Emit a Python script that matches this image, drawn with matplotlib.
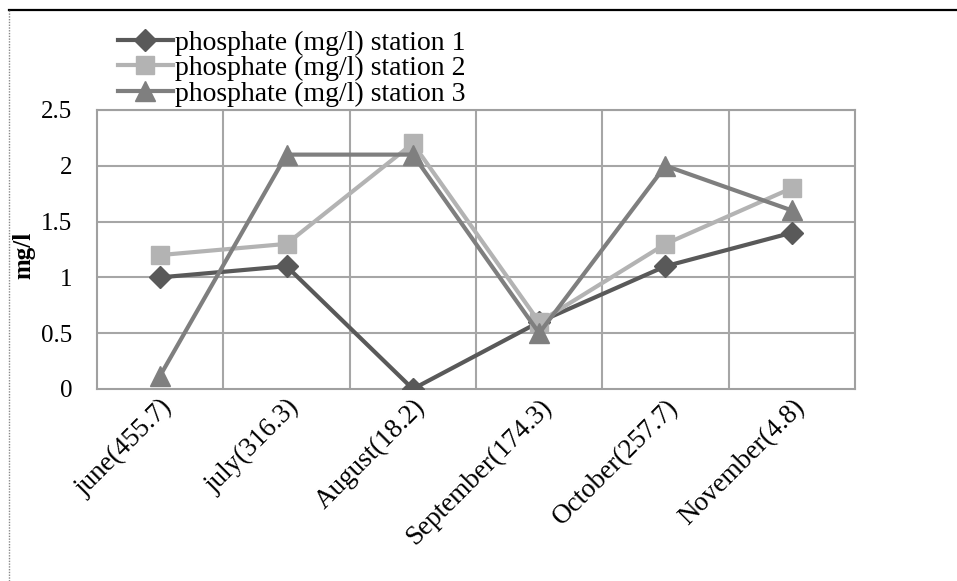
import numpy as np
import matplotlib.pyplot as plt
from matplotlib.lines import Line2D

months = ['june(455.7)', 'july(316.3)', 'August(18.2)', 'September(174.3)',
          'October(257.7)', 'November(4.8)']
station1 = [1.0, 1.1, 0.0, 0.6, 1.1, 1.4]
station2 = [1.2, 1.3, 2.2, 0.6, 1.3, 1.8]
station3 = [0.12, 2.1, 2.1, 0.5, 2.0, 1.6]
yticks = [0, 0.5, 1, 1.5, 2, 2.5]
yticklabels = ['0', '0.5', '1', '1.5', '2', '2.5']

plt.rcParams['font.family'] = ['Liberation Serif', 'DejaVu Serif']

fig = plt.figure(figsize=(9.57, 5.81), dpi=100)
ax = fig.add_axes([0.1014, 0.3305, 0.792, 0.4802])

x = np.arange(len(months))
l1, = ax.plot(x, station1, color='#595959', lw=3, marker='D', ms=11,
              label='phosphate (mg/l) station 1', zorder=3)
l2, = ax.plot(x, station2, color='#b3b3b3', lw=3, marker='s', ms=13,
              label='phosphate (mg/l) station 2', zorder=4)
l3, = ax.plot(x, station3, color='#7f7f7f', lw=3, marker='^', ms=14,
              label='phosphate (mg/l) station 3', zorder=5)

ax.set_xlim(-0.5, len(months) - 0.5)
ax.set_ylim(0, 2.5)
ax.set_yticks(yticks)
ax.set_yticklabels(yticklabels, fontsize=18)
ax.set_xticks(x)
ax.set_xticklabels(months, fontsize=19.5, rotation=45, ha='right',
                   rotation_mode='anchor')
ax.tick_params(axis='both', length=0)
ax.tick_params(axis='y', pad=18)
ax.tick_params(axis='x', pad=4)

# grid: horizontal at ticks, vertical between categories
for y in yticks[1:]:
    ax.axhline(y, color='#a6a6a6', lw=1.5, zorder=1)
for xb in np.arange(0.5, len(months) - 0.5, 1):
    ax.axvline(xb, color='#a6a6a6', lw=1.5, zorder=1)
for s in ax.spines.values():
    s.set_color('#a0a0a0')
    s.set_linewidth(1.5)

ax.set_ylabel('mg/l', fontsize=18, fontweight='bold')
ax.yaxis.set_label_coords(-0.081, 0.48)

leg = fig.legend(handles=[l1, l2, l3], loc='upper left',
                 bbox_to_anchor=(0.123, 0.948), frameon=False, fontsize=20,
                 handlelength=2.0, handletextpad=0.05, labelspacing=0.0,
                 borderpad=0, borderaxespad=0)

# outer frame: solid top edge, dotted left edge
fig.add_artist(Line2D([9 / 957, 1], [1 - 10 / 581, 1 - 10 / 581],
                      transform=fig.transFigure, color='black', lw=1.6))
fig.add_artist(Line2D([9 / 957, 9 / 957], [0, 1 - 10 / 581],
                      transform=fig.transFigure, color='#888888', lw=1.0,
                      linestyle=(0, (1, 1))))

fig.savefig('out.png', dpi=100)
